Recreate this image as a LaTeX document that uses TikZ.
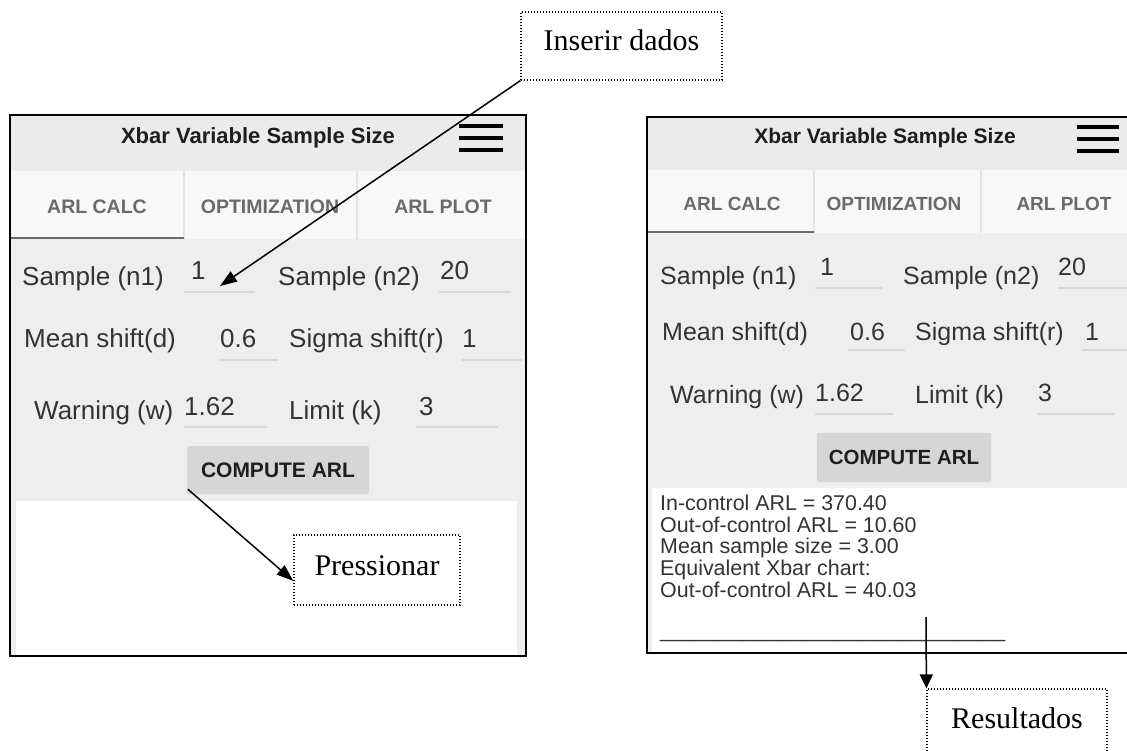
\documentclass[tikz,border=0pt]{standalone}
\usepackage{fontspec}
\setmainfont{Liberation Sans}
\newfontfamily\calloutfont{Liberation Serif}
\usetikzlibrary{arrows.meta,calc}
\definecolor{hdr}{HTML}{EBEBEB}
\definecolor{tabbg}{HTML}{F8F8F8}
\definecolor{formbg}{HTML}{EEEEEE}
\definecolor{btnbg}{HTML}{D6D6D6}
\definecolor{labc}{HTML}{333333}
\definecolor{tabc}{HTML}{6A6A6A}
\definecolor{linec}{HTML}{D8D8D8}
\definecolor{sepc}{HTML}{E4E4E4}
\definecolor{titc}{HTML}{1E1E1E}
\begin{document}
\begin{tikzpicture}[x=1pt,y=-1pt,
  lblL/.style={anchor=base west, inner sep=0pt, text=labc, font=\fontsize{26}{31}\selectfont},
  lblR/.style={anchor=base west, inner sep=0pt, text=labc, font=\fontsize{25}{30}\selectfont},
  reslbl/.style={anchor=base west, inner sep=0pt, text=labc, font=\fontsize{21.4}{26}\selectfont},
  fieldline/.style={draw=linec, line width=1.5pt},
  tabtxt/.style={inner sep=0pt, text=tabc, font=\bfseries\fontsize{19.5}{23}\selectfont},
  titletxt/.style={inner sep=0pt, text=titc, font=\bfseries\fontsize{22}{26}\selectfont},
  hamline/.style={line width=4pt},
  btnbox/.style={fill=btnbg, rounded corners=2pt, inner sep=0pt, text=titc, font=\bfseries\fontsize{21}{25}\selectfont},
  callout/.style={draw, line width=1.2pt, dash pattern=on 1.2pt off 1.8pt, inner sep=0pt,
     font=\calloutfont\fontsize{30}{36}\selectfont, text height=20pt, text depth=10pt, minimum height=68pt},
  conn/.style={line width=1.5pt, -{Triangle[length=17pt,width=12pt]}},
  conndown/.style={line width=1.5pt, -{Triangle[length=14pt,width=13pt]}}
]
\useasboundingbox (0,0) rectangle (1127,751);
\clip (0,0) rectangle (1127,751);

% ---------------- Left panel ----------------
\fill[hdr] (10,115) rectangle (526,171);
\fill[tabbg] (10,171) rectangle (526,239);
\draw[sepc, line width=1.2pt] (184,171) -- (184,239) (357,171) -- (357,239);
\fill[formbg] (10,239) rectangle (526,656);
\fill[white] (16,501) rectangle (517,656);
\draw[tabc, line width=2pt] (10,238) -- (184,238);
\draw[line width=2.5pt] (10,115) rectangle (526,656);

\node[titletxt] (titleL) at (258,138) {Xbar Variable Sample Size};
\draw[hamline] (459,126) -- (503,126) (459,138) -- (503,138) (459,150) -- (503,150);
\node[tabtxt] (tab1L) at (97,207) {ARL CALC};
\node[tabtxt] (tab2L) at (270,207) {OPTIMIZATION};
\node[tabtxt] (tab3L) at (443,207) {ARL PLOT};

\node[lblL] (n1L) at (22,286) {Sample (n1)};
\node[lblL] (n1vL) at (191,280) {1};
\draw[fieldline] (184,292) -- (255,292);
\node[lblL] (n2L) at (278,286) {Sample (n2)};
\node[lblL] (n2vL) at (440,280) {20};
\draw[fieldline] (439,292) -- (511,292);

\node[lblL] (dL) at (24,348) {Mean shift(d)};
\node[lblL] (dvL) at (220,348) {0.6};
\draw[fieldline] (219,360) -- (278,360);
\node[lblL] (rL) at (289,348) {Sigma shift(r)};
\node[lblL] (rvL) at (462,348) {1};
\draw[fieldline] (462,360) -- (522,360);

\node[lblL] (wL) at (34,419) {Warning (w)};
\node[lblL] (wvL) at (184,415) {1.62};
\draw[fieldline] (184,427) -- (267,427);
\node[lblL] (kL) at (289,419) {Limit (k)};
\node[lblL] (kvL) at (419,415) {3};
\draw[fieldline] (416,427) -- (498,427);

\node[btnbox, minimum width=182pt, minimum height=48pt] (btnL) at (278,470) {COMPUTE ARL};

% ---------------- Right panel ----------------
\fill[hdr] (647,117) rectangle (1140,170);
\fill[tabbg] (647,170) rectangle (1140,233);
\draw[sepc, line width=1.2pt] (814,170) -- (814,233) (981,170) -- (981,233);
\fill[formbg] (647,233) rectangle (1140,653);
\fill[white] (652,488) rectangle (1140,653);
\draw[tabc, line width=2pt] (647,232) -- (814,232);
\draw[line width=2.5pt] (1140,117) -- (647,117) -- (647,653) -- (1140,653);

\node[titletxt, font=\bfseries\fontsize{21}{25}\selectfont] (titleR) at (885,138) {Xbar Variable Sample Size};
\draw[hamline] (1077,127) -- (1119,127) (1077,139) -- (1119,139) (1077,151) -- (1119,151);
\node[tabtxt, font=\bfseries\fontsize{19}{23}\selectfont] (tab1R) at (732,204) {ARL CALC};
\node[tabtxt, font=\bfseries\fontsize{19}{23}\selectfont] (tab2R) at (894,204) {OPTIMIZATION};
\node[tabtxt, font=\bfseries\fontsize{19}{23}\selectfont] (tab3R) at (1064,204) {ARL PLOT};

\node[lblR] (n1R) at (660,285) {Sample (n1)};
\node[lblR] (n1vR) at (820,276) {1};
\draw[fieldline] (815,288) -- (882,288);
\node[lblR] (n2R) at (903,285) {Sample (n2)};
\node[lblR] (n2vR) at (1058,276) {20};
\draw[fieldline] (1058,288) -- (1130,288);

\node[lblR] (dR) at (662,340) {Mean shift(d)};
\node[lblR] (dvR) at (850,340) {0.6};
\draw[fieldline] (848,350) -- (905,350);
\node[lblR] (rR) at (915,340) {Sigma shift(r)};
\node[lblR] (rvR) at (1085,340) {1};
\draw[fieldline] (1082,350) -- (1130,350);

\node[lblR] (wR) at (670,403) {Warning (w)};
\node[lblR] (wvR) at (815,401) {1.62};
\draw[fieldline] (815,414) -- (893,414);
\node[lblR] (kR) at (915,403) {Limit (k)};
\node[lblR] (kvR) at (1038,401) {3};
\draw[fieldline] (1037,414) -- (1115,414);

\node[btnbox, minimum width=174pt, minimum height=49pt, font=\bfseries\fontsize{20.5}{25}\selectfont] (btnR) at (904,457.5) {COMPUTE ARL};

\node[reslbl] (res1) at (660,510) {In-control ARL = 370.40};
\node[reslbl] (res2) at (660,532) {Out-of-control ARL = 10.60};
\node[reslbl] (res3) at (660,553) {Mean sample size = 3.00};
\node[reslbl] (res4) at (660,575) {Equivalent Xbar chart:};
\node[reslbl] (res5) at (660,597) {Out-of-control ARL = 40.03};
\node[reslbl] (resline) at (660,637) {\_\_\_\_\_\_\_\_\_\_\_\_\_\_\_\_\_\_\_\_\_\_\_\_\_\_\_\_\_};

% ---------------- Callouts ----------------
\node[callout, minimum width=201pt] (ins) at (621.5,46) {Inserir dados};
\node[callout, minimum width=166pt, minimum height=70pt] (press) at (377,570) {Pressionar};
\node[callout, minimum width=180pt] (resbox) at (1017,723) {Resultados};

\coordinate (insTip) at (220,286);
\coordinate (resStart) at (926,617);
\draw[conn] (ins.south west) -- (insTip);
\draw[conn] ($(btnL.south west)+(1,-5)$) -- ($(press.west)+(0,11)$);
\draw[conndown] (resStart) -- (resbox.north west);
\end{tikzpicture}
\end{document}
